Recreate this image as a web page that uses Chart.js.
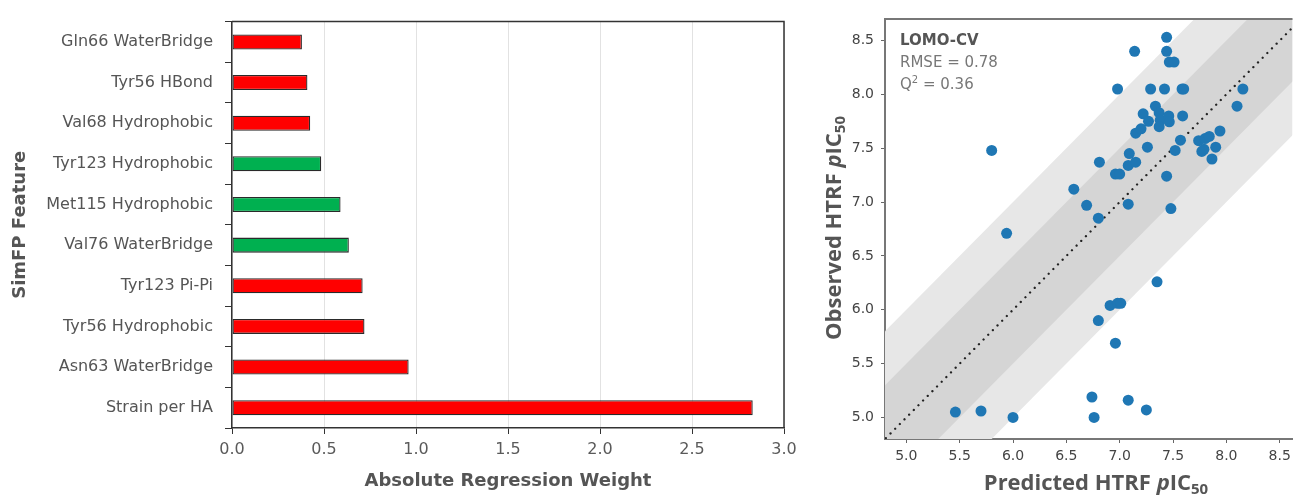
<!DOCTYPE html>
<html>
<head>
<meta charset="utf-8">
<script src="https://cdn.jsdelivr.net/npm/chart.js@4.4.1/dist/chart.umd.min.js"></script>
<style>
  html, body { margin: 0; padding: 0; background: #fff; overflow: hidden; }
  #left { position: absolute; left: 0; top: 0; }
  #right { position: absolute; left: 815px; top: 0; }
</style>
</head>
<body>
<canvas id="left" width="810" height="495"></canvas>
<canvas id="right" width="483" height="495"></canvas>
<script>
// left panel: feature weights
const features = ['Gln66 WaterBridge', 'Tyr56 HBond', 'Val68 Hydrophobic', 'Tyr123 Hydrophobic',
  'Met115 Hydrophobic', 'Val76 WaterBridge', 'Tyr123 Pi-Pi', 'Tyr56 Hydrophobic',
  'Asn63 WaterBridge', 'Strain per HA'];
const weights = [0.38, 0.41, 0.425, 0.485, 0.59, 0.635, 0.71, 0.72, 0.96, 2.83];
const favourable = [false, false, false, true, true, true, false, false, false, false];
const weightTicks = [0, 0.5, 1, 1.5, 2, 2.5, 3];

// right panel: predicted vs observed
const predicted = [5.46, 5.70, 6.00, 6.74, 6.76, 7.08, 7.25, 6.96, 6.80, 6.91, 6.98, 7.01, 7.35,
  5.80, 5.94, 6.57, 6.69, 6.80, 6.81, 6.98, 7.14, 6.96, 7.00, 7.08, 7.09, 7.08, 7.15,
  7.15, 7.20, 7.22, 7.26, 7.27, 7.29, 7.335, 7.37, 7.38, 7.37, 7.46, 7.465, 7.42, 7.44,
  7.44, 7.465, 7.51, 7.44, 7.48, 7.52, 7.57, 7.585, 7.60, 7.59, 7.74, 7.80, 7.84, 7.77,
  7.79, 7.865, 7.90, 7.94, 8.10, 8.155];
const observed = [5.05, 5.06, 5.00, 5.19, 5.00, 5.16, 5.07, 5.69, 5.90, 6.04, 6.06, 6.06, 6.26,
  7.48, 6.71, 7.12, 6.97, 6.85, 7.37, 8.05, 8.40, 7.26, 7.26, 6.98, 7.45, 7.34, 7.37,
  7.64, 7.68, 7.82, 7.51, 7.75, 8.05, 7.89, 7.83, 7.76, 7.70, 7.80, 7.745, 8.05, 8.53,
  8.40, 8.30, 8.30, 7.24, 6.94, 7.48, 7.575, 8.05, 8.05, 7.80, 7.57, 7.59, 7.61, 7.47,
  7.49, 7.40, 7.51, 7.66, 7.89, 8.05];
const pTicks = [5.0, 5.5, 6.0, 6.5, 7.0, 7.5, 8.0, 8.5];
const bandWidths = [0.5, 1.0];
const cvName = 'LOMO-CV';
const rmse = 0.78;
const q2 = 0.36;

Chart.defaults.font.family = '"DejaVu Sans", sans-serif';

function drawParts(ctx, parts, x, y, align) {
  let total = 0;
  parts.forEach(p => { ctx.font = p.font; total += ctx.measureText(p.text).width; });
  let cx = align === 'center' ? x - total / 2 : x;
  parts.forEach(p => {
    ctx.font = p.font;
    ctx.fillText(p.text, cx, y + (p.dy || 0));
    cx += ctx.measureText(p.text).width;
  });
}

const framePlugin = {
  id: 'frame',
  afterDraw(chart, args, opts) {
    const { ctx, chartArea: a } = chart;
    ctx.save();
    ctx.strokeStyle = opts.color;
    ctx.lineWidth = opts.width;
    ctx.beginPath();
    ctx.moveTo(a.left, a.top);
    ctx.lineTo(a.right, a.top);
    if (opts.right) ctx.lineTo(a.right, a.bottom);
    ctx.stroke();
    ctx.restore();
  }
};

new Chart(document.getElementById('left'), {
  type: 'bar',
  data: {
    labels: features,
    datasets: [{
      data: weights,
      backgroundColor: favourable.map(f => f ? '#00b050' : '#ff0000'),
      borderColor: '#2a2a2a',
      borderWidth: 1.3,
      borderSkipped: false,
      barPercentage: 0.37,
      categoryPercentage: 1
    }]
  },
  options: {
    indexAxis: 'y',
    responsive: false,
    animation: false,
    devicePixelRatio: 1,
    layout: { padding: { top: 16, right: 26, left: 0, bottom: 0 } },
    plugins: {
      legend: { display: false },
      tooltip: { enabled: false },
      frame: { color: '#333', width: 1.5, right: true }
    },
    scales: {
      x: {
        type: 'linear', min: 0, max: 3,
        afterBuildTicks: s => { s.ticks = weightTicks.map(v => ({ value: v })); },
        afterFit: s => { s.height = 67; },
        ticks: { callback: v => v.toFixed(1), color: '#5a5a5a', font: { size: 16 }, padding: 6 },
        grid: { color: '#e2e2e2', tickColor: '#333', tickLength: 6 },
        border: { color: '#333', width: 1.5 },
        title: { display: true, text: 'Absolute Regression Weight', color: '#555',
          font: { size: 18, weight: 'bold' }, padding: { top: 0, bottom: 3 } }
      },
      y: {
        afterFit: s => { s.width = 232; },
        ticks: { color: '#555', font: { size: 16 }, padding: 12 },
        grid: { offset: true, drawOnChartArea: false, tickLength: 7, color: '#333' },
        border: { color: '#333', width: 1.5 },
        title: { display: true, text: 'SimFP Feature', color: '#555',
          font: { size: 18, weight: 'bold' }, padding: { top: 10, bottom: 0 } }
      }
    }
  },
  plugins: [framePlugin]
});

const lo = 3.5, hi = 10;
const offsetLine = c => [{ x: lo, y: lo + c }, { x: hi, y: hi + c }];

const labelsPlugin = {
  id: 'labels',
  afterDraw(chart) {
    const { ctx, chartArea: a } = chart;
    ctx.save();
    ctx.textAlign = 'left';
    ctx.textBaseline = 'alphabetic';
    ctx.fillStyle = '#555';
    ctx.font = 'bold 15px "DejaVu Sans"';
    ctx.fillText(cvName, a.left + 15, a.top + 26);
    ctx.fillStyle = '#777';
    ctx.font = '15px "DejaVu Sans"';
    ctx.fillText('RMSE = ' + rmse.toFixed(2), a.left + 15, a.top + 48);
    drawParts(ctx, [
      { text: 'Q', font: '15px "DejaVu Sans"' },
      { text: '2', font: '10px "DejaVu Sans"', dy: -6 },
      { text: ' = ' + q2.toFixed(2), font: '15px "DejaVu Sans"' }
    ], a.left + 15, a.top + 69.5, 'left');

    const big = 'bold 22px "Open Sans"';
    const title = [
      { text: 'Predicted HTRF ', font: big },
      { text: 'p', font: 'italic ' + big },
      { text: 'IC', font: big },
      { text: '50', font: 'bold 15px "Open Sans"', dy: 4 }
    ];
    ctx.fillStyle = '#555';
    drawParts(ctx, title, 281, 490, 'center');
    ctx.translate(25.5, 228);
    ctx.rotate(-Math.PI / 2);
    title[0].text = 'Observed HTRF ';
    drawParts(ctx, title, 0, 0, 'center');
    ctx.restore();
  }
};

const axisCommon = {
  afterBuildTicks: s => { s.ticks = pTicks.map(v => ({ value: v })); },
  grid: { drawOnChartArea: false, tickLength: 4, color: '#666' },
  border: { color: '#777', width: 2 }
};

new Chart(document.getElementById('right'), {
  type: 'scatter',
  data: {
    datasets: [
      { type: 'scatter', data: predicted.map((p, i) => ({ x: p, y: observed[i] })),
        backgroundColor: '#1f77b4', borderWidth: 0, pointRadius: 5.5 },
      { type: 'line', data: offsetLine(0), borderColor: '#222', borderWidth: 2.3,
        borderDash: [0.01, 6.6], borderCapStyle: 'round', pointRadius: 0, fill: false, clip: 0 },
      { type: 'line', data: offsetLine(bandWidths[0]), borderWidth: 0, pointRadius: 0,
        fill: 3, backgroundColor: '#d5d5d5' },
      { type: 'line', data: offsetLine(-bandWidths[0]), borderWidth: 0, pointRadius: 0, fill: false },
      { type: 'line', data: offsetLine(bandWidths[1]), borderWidth: 0, pointRadius: 0,
        fill: 5, backgroundColor: '#e7e7e7' },
      { type: 'line', data: offsetLine(-bandWidths[1]), borderWidth: 0, pointRadius: 0, fill: false }
    ]
  },
  options: {
    responsive: false,
    animation: false,
    devicePixelRatio: 1,
    layout: { padding: { top: 19, right: 0, left: 0, bottom: 0 } },
    plugins: {
      legend: { display: false },
      tooltip: { enabled: false },
      frame: { color: '#777', width: 2, right: false }
    },
    scales: {
      x: Object.assign({}, axisCommon, {
        type: 'linear', min: 4.8, max: 8.62,
        afterFit: s => { s.height = 56; },
        ticks: { callback: v => v.toFixed(1), color: '#444', font: { size: 14 }, padding: 5 }
      }),
      y: Object.assign({}, axisCommon, {
        type: 'linear', min: 4.8, max: 8.7,
        afterFit: s => { s.width = 70; },
        ticks: { callback: v => v.toFixed(1), color: '#444', font: { size: 14 }, padding: 7 }
      })
    }
  },
  plugins: [framePlugin, labelsPlugin]
});
</script>
</body>
</html>
